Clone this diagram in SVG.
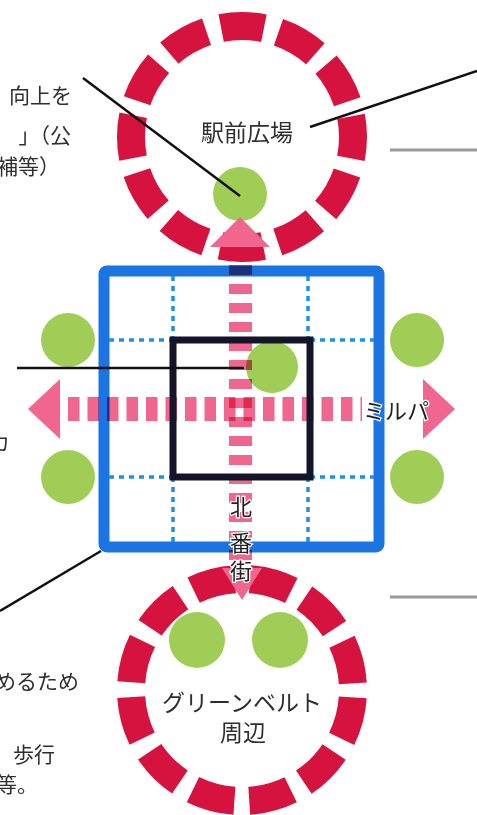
<svg xmlns="http://www.w3.org/2000/svg" width="477" height="815" viewBox="0 0 477 815">
<style>
.t{font-family:"Noto Sans CJK JP","Noto Sans",sans-serif;fill:#2e2e2e;font-size:21px}
.lbl{font-family:"Noto Sans CJK JP","Noto Sans",sans-serif;fill:#2e2e2e;font-size:23px;text-anchor:middle}
.ring{fill:none;stroke:#d6133f;stroke-width:28}
.green{fill:#9fcd55}
.dot{stroke:#1e8fe6;stroke-width:3.5;stroke-dasharray:5 5;fill:none}
.lead{stroke:#111;stroke-width:2.5;fill:none}
.gray{stroke:#999;stroke-width:3;fill:none}
.arrow{fill:#f0668f}
.shaft{stroke:#f0668f;fill:none;mix-blend-mode:multiply}
.halo{font-family:"Noto Sans CJK JP","Noto Sans",sans-serif;fill:#222;font-size:22px;stroke:#fff;stroke-width:2.5;paint-order:stroke;text-anchor:middle}
</style>
<rect width="477" height="815" fill="#fff"/>

<g id="texts-left">
<text class="t" x="72" y="103" text-anchor="end">向上を</text>
<text class="t" x="71" y="143" text-anchor="end">」（公</text>
<text class="t" x="-3" y="174">補等）</text>
<text class="t" x="-11" y="450">カ</text>
<text class="t" x="-5" y="689">めるため</text>
<text class="t" x="13" y="762">歩行</text>
<text class="t" x="-4" y="792">等。</text>
</g>

<g id="block">
<rect x="104" y="271" width="275" height="276" rx="3" fill="none" stroke="#1c74e3" stroke-width="11"/>
<path class="dot" d="M173 276V340M308 276V340M173 477V542M308 477V542M109 340H173M310 340H374M109 477H173M310 477H374"/>
</g>

<g id="green-side">
<circle class="green" cx="68" cy="340" r="27"/>
<circle class="green" cx="68" cy="477" r="27"/>
<circle class="green" cx="417" cy="340" r="27"/>
<circle class="green" cx="417" cy="477" r="27"/>
<circle class="green" cx="272" cy="367" r="26"/>
</g>

<g id="connectors">
<line class="shaft" x1="68" y1="409" x2="362" y2="409" stroke-width="24" stroke-dasharray="11.5 8"/>
<line class="shaft" x1="240.5" y1="265" x2="240.5" y2="568" stroke-width="23" stroke-dasharray="10 9"/>
</g>

<g id="center-square">
<rect x="173" y="340" width="137" height="137" fill="none" stroke="#15152a" stroke-width="7"/>
</g>

<g id="station-plaza">
<circle class="ring" cx="242" cy="137" r="111" stroke-dasharray="43 15.12" stroke-dashoffset="21.5"/>
<circle class="green" cx="240" cy="194" r="27"/>
<text class="lbl" x="247" y="141">駅前広場</text>
</g>

<g id="greenbelt">
<circle class="ring" cx="242" cy="690" r="111" stroke-dasharray="43 15.12" stroke-dashoffset="-7.56"/>
<circle class="green" cx="197" cy="640" r="28"/>
<circle class="green" cx="280" cy="640" r="28"/>
<text class="lbl" x="242" y="711">グリーンベルト</text>
<text class="lbl" x="243" y="741">周辺</text>
</g>

<g id="arrowheads">
<polygon class="arrow" points="240,217 210,247 270,247"/>
<polygon class="arrow" points="242,600 222,568 262,568"/>
<polygon class="arrow" points="28,409 60,379 60,439"/>
<polygon class="arrow" points="455,409 423,379 423,439"/>
</g>

<g id="street-labels">
<text class="halo" x="396" y="419">ミルパ</text>
<text class="halo" x="241" y="515">北</text>
<text class="halo" x="241" y="551">番</text>
<text class="halo" x="241" y="579">街</text>
</g>

<g id="leaders">
<line class="lead" x1="83" y1="78" x2="240" y2="196"/>
<line class="lead" x1="310" y1="127" x2="477" y2="71"/>
<line class="lead" x1="17" y1="368" x2="244" y2="368"/>
<line class="lead" x1="101" y1="551" x2="0" y2="611"/>
<line class="gray" x1="390" y1="150" x2="477" y2="150"/>
<line class="gray" x1="390" y1="597" x2="477" y2="597"/>
</g>
</svg>
